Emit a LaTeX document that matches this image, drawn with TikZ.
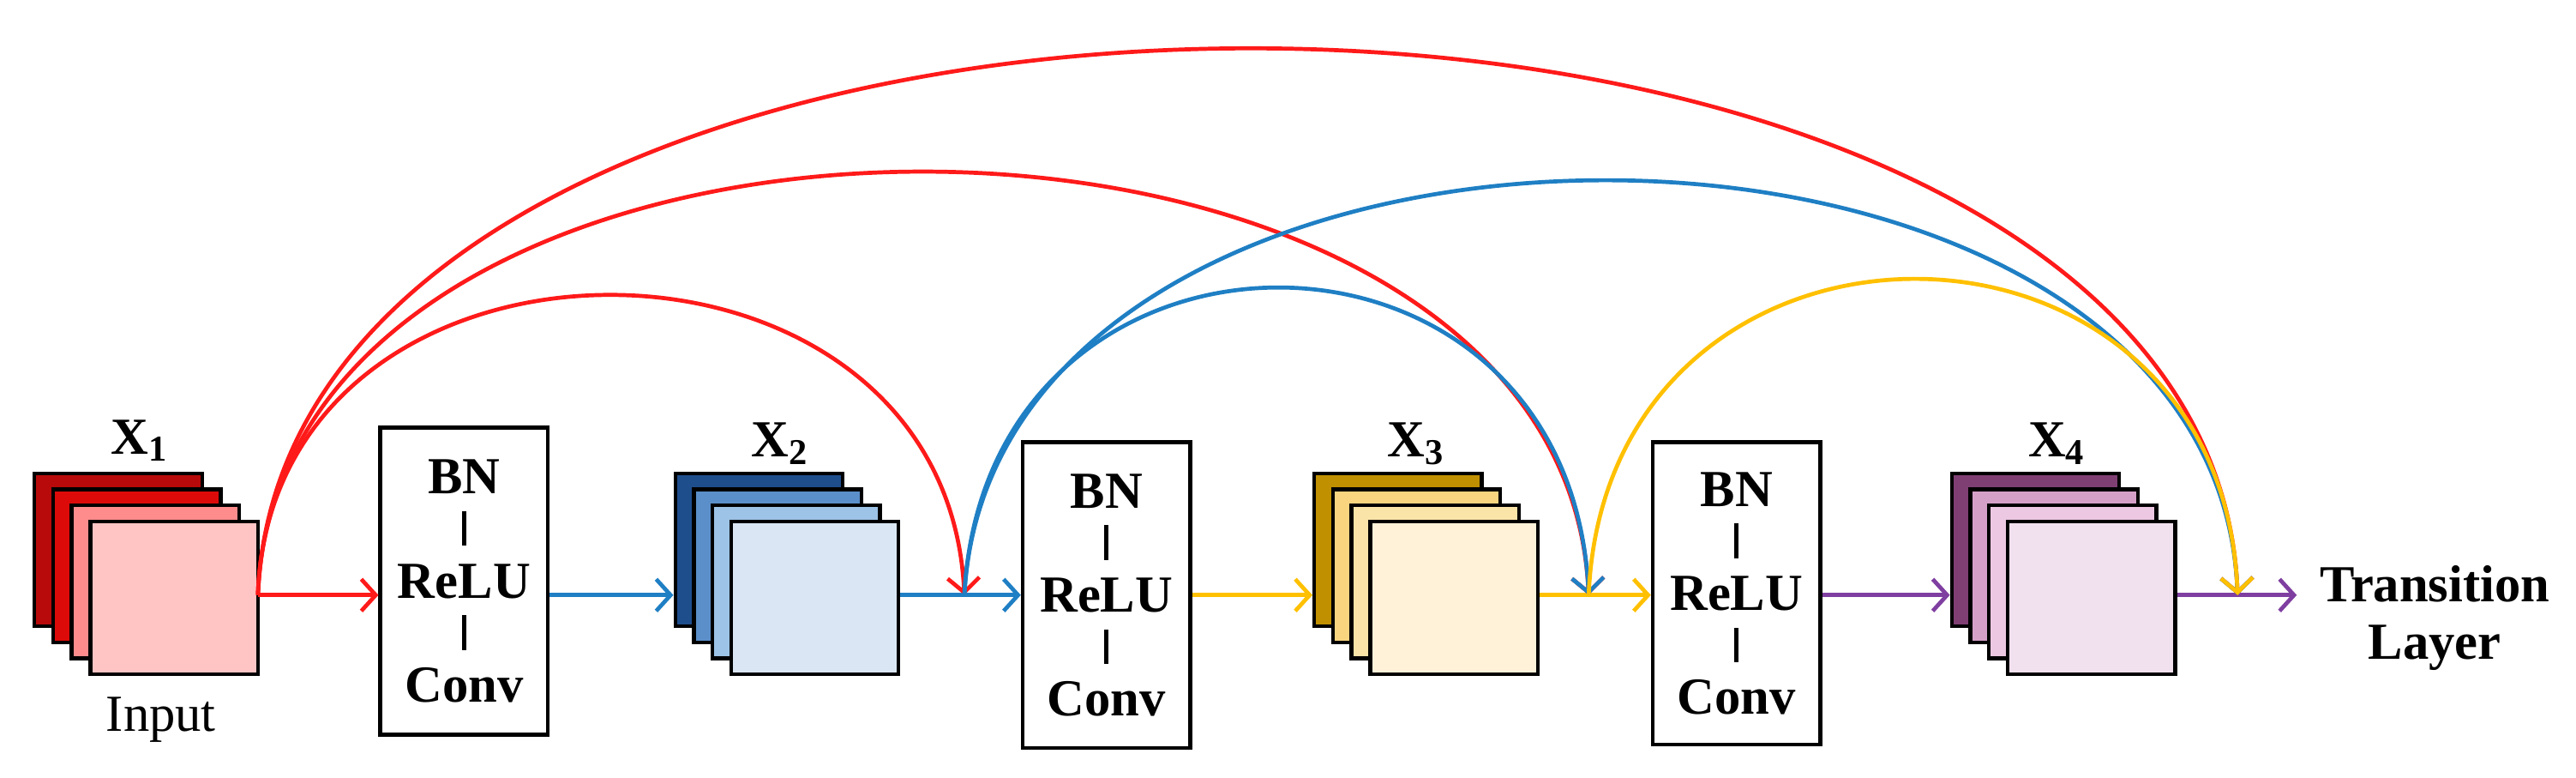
\documentclass[tikz,border=0pt]{standalone}
\usepackage{fontspec}
\setmainfont{Liberation Serif}
\usetikzlibrary{arrows.meta}
\definecolor{cred}{HTML}{FF1A1A}
\definecolor{cblue}{HTML}{1F7FC4}
\definecolor{cyel}{HTML}{FFC000}
\definecolor{cpur}{HTML}{7F3FA0}
\definecolor{ra}{HTML}{B80A0A}\definecolor{rb}{HTML}{DD0A0A}\definecolor{rc}{HTML}{FF8C8C}\definecolor{rd}{HTML}{FFC4C4}
\definecolor{ba}{HTML}{1F4E8C}\definecolor{bb}{HTML}{5B8FC9}\definecolor{bc}{HTML}{9DC3E6}\definecolor{bd}{HTML}{DAE6F4}
\definecolor{ya}{HTML}{C09000}\definecolor{yb}{HTML}{FAD580}\definecolor{yc}{HTML}{FBE4A8}\definecolor{yd}{HTML}{FFF2D8}
\definecolor{pa}{HTML}{7F3F73}\definecolor{pb}{HTML}{D5A0C8}\definecolor{pc}{HTML}{ECC8E2}\definecolor{pd}{HTML}{F1E0EE}
\begin{document}
\begin{tikzpicture}[x=0.02cm,y=-0.02cm,
  lbl/.style={font=\fontsize{18}{20}\selectfont\bfseries},
  box/.style={draw,line width=1.3pt,minimum width=2.04cm,inner sep=0pt,font=\fontsize{18}{18}\selectfont\bfseries,align=center},
  fm/.style={draw,line width=1.3pt,minimum width=2.04cm,minimum height=1.86cm,inner sep=0pt},
  con/.style={line width=1.4pt,-{Straight Barb[length=5pt,width=11pt]}}]
\useasboundingbox (0,0) rectangle (1568,473);
\newcommand{\vb}{\rule[0pt]{1.4pt}{12pt}}
\newcommand{\stk}[6]{%
 \node[fm,fill=#3] (#1a) at (#2+51,334.5) {};
 \node[fm,fill=#4] (#1b) at (#2+62.3,344.2) {};
 \node[fm,fill=#5] (#1c) at (#2+73.6,353.9) {};
 \node[fm,fill=#6] (#1) at (#2+85,363.6) {};}
\stk{xa}{21}{ra}{rb}{rc}{rd}
\stk{xb}{411}{ba}{bb}{bc}{bd}
\stk{xc}{800}{ya}{yb}{yc}{yd}
\stk{xd}{1188}{pa}{pb}{pc}{pd}
\node[lbl] (la) at (85,268) {X\textsubscript{1}};
\node[lbl] (lb) at (475,270) {X\textsubscript{2}};
\node[lbl] (lc) at (862,270) {X\textsubscript{3}};
\node[lbl] (ld) at (1252,270) {X\textsubscript{4}};
\node[font=\fontsize{18}{20}\selectfont] (inp) at (98,438) {Input};
\node[lbl,align=center] (tl) at (1482,376) {Transition\\Layer};
\node[box,minimum height=3.74cm] (b1) at (282.5,353.5) {BN\\\vb\\ReLU\\\vb\\Conv};
\node[box,minimum height=3.72cm] (b2) at (673.5,362) {BN\\\vb\\ReLU\\\vb\\Conv};
\node[box,minimum height=3.68cm] (b3) at (1057,361) {BN\\\vb\\ReLU\\\vb\\Conv};
\coordinate (s1) at (157,362);
\coordinate (j2) at (587,362);
\coordinate (j3) at (967,362);
\coordinate (j4) at (1362,362);
\coordinate (e4) at (1398,362);
\draw[con,cred] (s1) -- (b1.west|-s1);
\draw[con,cblue] (b1.east|-s1) -- (xba.west|-s1);
\draw[cblue,line width=1.4pt] (xb.east|-s1) -- (j2);
\draw[con,cblue] (j2) -- (b2.west|-s1);
\draw[con,cyel] (b2.east|-s1) -- (xca.west|-s1);
\draw[cyel,line width=1.4pt] (xc.east|-s1) -- (j3);
\draw[con,cyel] (j3) -- (b3.west|-s1);
\draw[con,cpur] (b3.east|-s1) -- (xda.west|-s1);
\draw[con,cpur] (xd.east|-s1) -- (e4);
\draw[con,cred] (s1) .. controls (165,119) and (575,119) .. (j2);
\draw[con,cred] (s1) .. controls (170,19) and (950,19) .. (j3);
\draw[con,cred] (s1) .. controls (175,-81) and (1345,-81) .. (j4);
\draw[con,cblue] (j2) .. controls (600,113) and (955,113) .. (j3);
\draw[con,cblue] (j2) .. controls (605,26) and (1348,26) .. (j4);
\draw[con,cyel] (j3) .. controls (978,106) and (1352,106) .. (j4);
\end{tikzpicture}
\end{document}
